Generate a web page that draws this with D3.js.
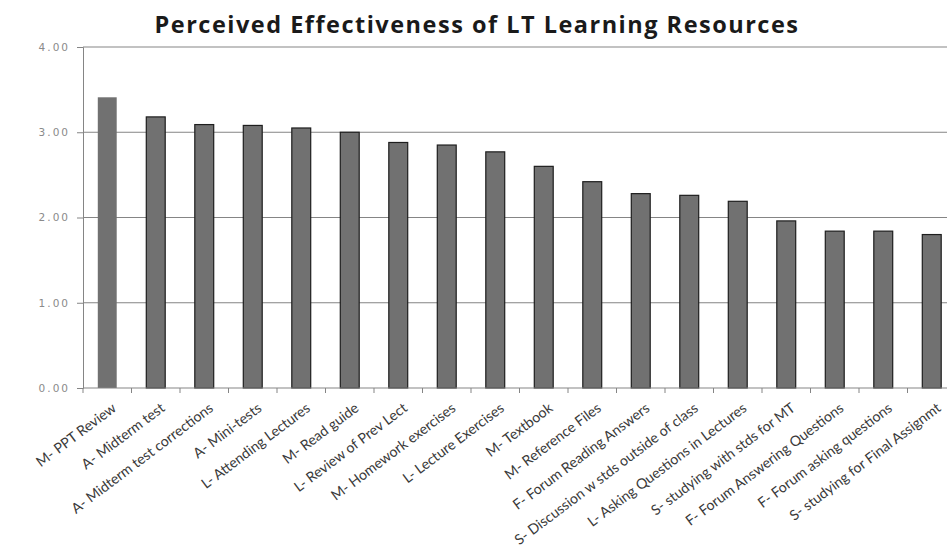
<!DOCTYPE html>
<html>
<head>
<meta charset="utf-8">
<script src="https://cdn.jsdelivr.net/npm/d3@7"></script>
<style>
  html, body { margin: 0; padding: 0; background: #fff; }
  svg { display: block; }
</style>
</head>
<body>
<svg id="chart" width="947" height="556"></svg>
<script>
const chartTitle = "Perceived Effectiveness of LT Learning Resources";

const categories = [
  "M- PPT Review",
  "A- Midterm test",
  "A- Midterm test corrections",
  "A- Mini-tests",
  "L- Attending Lectures",
  "M- Read guide",
  "L- Review of Prev Lect",
  "M- Homework exercises",
  "L- Lecture Exercises",
  "M- Textbook",
  "M- Reference Files",
  "F- Forum Reading Answers",
  "S- Discussion w stds outside of class",
  "L- Asking Questions in Lectures",
  "S- studying with stds for MT",
  "F- Forum Answering Questions",
  "F- Forum  asking questions",
  "S- studying for Final Assignmt"
];

const values = [3.41, 3.18, 3.09, 3.08, 3.05, 3.00, 2.88, 2.85, 2.77, 2.60,
                2.42, 2.28, 2.26, 2.19, 1.96, 1.84, 1.84, 1.80];

const yTicks = [0, 1, 2, 3, 4];

const svg = d3.select("#chart");
const plotLeft = 83, plotRight = 956, plotTop = 47, plotBottom = 388;

const x = d3.scaleBand()
  .domain(categories)
  .range([plotLeft, plotRight])
  .paddingInner(0.61)
  .paddingOuter(0.305);

const y = d3.scaleLinear().domain([0, 4]).range([plotBottom, plotTop]);

// title
svg.append("text")
  .attr("x", 477)
  .attr("y", 33)
  .attr("text-anchor", "middle")
  .attr("font-family", "'Open Sans', sans-serif")
  .attr("font-weight", "bold")
  .attr("font-size", 23.5)
  .attr("letter-spacing", "1.5px")
  .attr("fill", "#1a1a1a")
  .text(chartTitle);

// horizontal gridlines
svg.append("g")
  .selectAll("line")
  .data(yTicks.filter(d => d > 0))
  .join("line")
  .attr("x1", plotLeft)
  .attr("x2", plotRight)
  .attr("y1", d => y(d))
  .attr("y2", d => y(d))
  .attr("stroke", "#858585")
  .attr("stroke-width", 1);

// y axis
const yAxis = svg.append("g")
  .attr("transform", `translate(${plotLeft},0)`)
  .call(d3.axisLeft(y).tickValues(yTicks).tickFormat(d3.format(".2f")).tickSize(6).tickPadding(7));
yAxis.select(".domain").attr("stroke", "#858585");
yAxis.selectAll(".tick line").attr("stroke", "#858585");
yAxis.selectAll(".tick text")
  .attr("font-family", "'DejaVu Sans', sans-serif")
  .attr("font-size", 10.5)
  .attr("letter-spacing", "2px")
  .attr("fill", "#8a8a8a");

// bars
svg.append("g")
  .selectAll("rect")
  .data(values)
  .join("rect")
  .attr("x", (d, i) => x(categories[i]))
  .attr("y", d => y(d))
  .attr("width", x.bandwidth())
  .attr("height", d => plotBottom - y(d))
  .attr("fill", "#717171")
  .attr("stroke", (d, i) => i === 0 ? "none" : "#1e1e1e")
  .attr("stroke-width", 1.2);

// x axis with ticks between categories
const step = x.step();
const boundaries = d3.range(categories.length + 1).map(i => plotLeft + i * step);
svg.append("line")
  .attr("x1", plotLeft).attr("x2", plotRight)
  .attr("y1", plotBottom).attr("y2", plotBottom)
  .attr("stroke", "#858585");
svg.append("g")
  .selectAll("line")
  .data(boundaries)
  .join("line")
  .attr("x1", d => d).attr("x2", d => d)
  .attr("y1", plotBottom).attr("y2", plotBottom + 5)
  .attr("stroke", "#858585");

// rotated category labels
svg.append("g")
  .selectAll("text")
  .data(categories)
  .join("text")
  .attr("transform", d => `translate(${x(d) + x.bandwidth() / 2 + 7},${plotBottom + 18}) rotate(-37)`)
  .attr("text-anchor", "end")
  .attr("dy", "0.35em")
  .attr("font-family", "Lato, sans-serif")
  .attr("font-size", 14.2)
  .attr("fill", "#3a3a3a")
  .text(d => d);
</script>
</body>
</html>
